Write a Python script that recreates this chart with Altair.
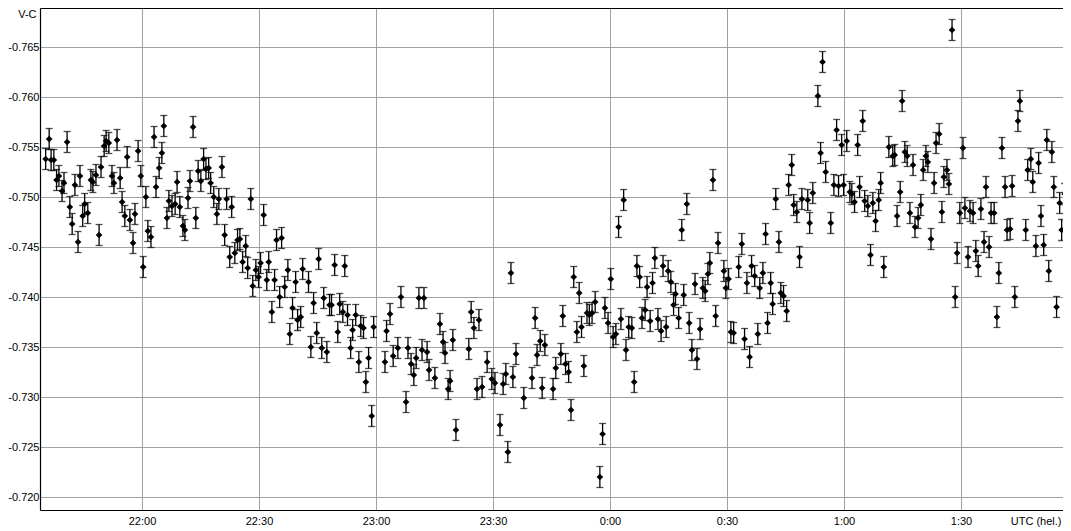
import altair as alt
import pandas as pd

# Time in minutes relative to 22:00 UTC (hel.), negative = before 22:00
minutes = [
    -24.7, -23.8, -23.3, -22.6, -21.9, -21.3, -20.5, -20.0, -19.2, -18.5,
    -17.9, -17.2, -16.4, -15.9, -15.2, -14.7, -13.9, -13.1, -12.6, -11.8,
    -11.0, -10.5, -9.7, -9.2, -8.5, -7.7, -7.2, -6.4, -5.6, -5.1,
    -4.4, -3.8, -3.1, -2.3, -1.8, -1.0, -0.3, 0.3, 1.0, 1.5,
    2.3, 3.1, 3.6, 4.4, 5.1, 5.6, 6.4, 6.9, 7.7, 8.5,
    9.0, 9.7, 10.5, 11.0, 11.8, 12.3, 13.1, 13.8, 14.4, 15.1,
    15.8, 16.4, 17.1, 17.6, 18.4, 19.2, 19.7, 20.5, 21.2, 21.7,
    22.5, 23.0, 23.8, 24.5, 25.1, 25.8, 26.6, 27.1, 27.9, 28.4,
    29.2, 29.9, 30.4, 31.2, 32.0, 32.5, 33.3, 34.0, 34.5, 35.3,
    35.8, 36.6, 37.4, 37.9, 38.6, 39.4, 39.9, 40.7, 41.2, 42.7,
    43.3, 44.0, 44.8, 45.3, 46.1, 46.6, 47.4, 48.1, 48.6, 49.4,
    50.2, 50.7, 51.5, 52.0, 52.7, 53.5, 54.0, 54.8, 55.6, 56.1,
    56.8, 57.4, 58.1, 58.9, 59.4, 62.3, 62.7, 63.6, 64.4, 65.6,
    66.4, 67.7, 68.2, 69.0, 69.7, 70.3, 71.0, 71.8, 72.3, 73.1,
    73.6, 75.1, 76.4, 77.2, 77.7, 78.5, 79.0, 79.7, 80.5, 83.8,
    84.4, 85.1, 85.9, 86.4, 87.2, 88.5, 89.7, 90.5, 91.8, 92.6,
    93.3, 93.8, 94.6, 95.1, 95.9, 97.9, 100.0, 100.8, 101.3, 102.1,
    102.6, 103.3, 105.4, 106.1, 107.4, 107.9, 108.6, 109.4, 110.0, 110.7,
    111.5, 112.1, 112.7, 113.3, 114.1, 114.7, 115.4, 116.2, 117.4, 118.1,
    118.7, 119.5, 120.2, 120.8, 121.5, 122.2, 122.8, 123.5, 124.1, 124.8,
    125.6, 126.2, 126.9, 127.6, 128.2, 129.0, 129.5, 130.3, 130.9, 131.5,
    132.3, 133.1, 133.6, 134.4, 134.9, 135.6, 136.3, 136.8, 137.6, 138.4,
    138.9, 139.7, 140.3, 141.0, 141.8, 142.3, 143.1, 143.8, 144.4, 145.1,
    145.6, 146.4, 147.1, 147.7, 149.2, 149.7, 150.4, 151.0, 151.7, 153.0,
    153.8, 154.5, 155.1, 155.8, 156.3, 157.1, 157.9, 158.4, 159.2, 159.9,
    160.4, 161.2, 161.7, 162.5, 163.3, 163.8, 164.5, 165.3, 165.8, 166.6,
    167.1, 167.9, 168.6, 169.2, 170.7, 171.2, 172.0, 173.3, 174.0, 174.5,
    175.3, 176.6, 177.4, 178.1, 178.6, 179.4, 179.9, 180.7, 181.5, 182.0,
    182.7, 183.5, 184.0, 184.8, 185.3, 186.1, 186.8, 187.4, 188.1, 188.9,
    189.4, 190.2, 191.5, 192.5, 193.0, 193.6, 194.4, 194.9, 195.6, 196.2,
    196.9, 197.7, 198.2, 199.0, 199.7, 200.3, 201.0, 201.5, 202.3, 203.1,
    203.6, 204.4, 205.1, 205.6, 206.4, 206.9, 207.7, 208.5, 209.0, 209.7,
    210.5, 211.0, 211.8, 212.3, 213.1, 213.8, 214.4, 215.1, 215.9, 216.4,
    217.2, 217.7, 218.5, 219.2, 219.7, 220.5, 221.3, 221.8, 222.6, 223.1,
    223.8, 224.6, 225.1, 226.6, 227.1, 227.9, 228.4, 229.2, 229.9, 230.5,
    231.2, 232.0, 232.5, 233.3, 233.8, 234.5, 235.3, 235.8, 236.6,
]

# V-C differential magnitude
vc = [
    -0.7538, -0.7558, -0.7537, -0.7537, -0.7517, -0.7521, -0.7506, -0.7514, -0.7555, -0.7490,
    -0.7473, -0.7512, -0.7455, -0.7521, -0.7481, -0.7493, -0.7484, -0.7517, -0.7515, -0.7522,
    -0.7462, -0.7530, -0.7551, -0.7556, -0.7554, -0.7521, -0.7514, -0.7557, -0.7519, -0.7495,
    -0.7481, -0.7540, -0.7477, -0.7454, -0.7483, -0.7546, -0.7521, -0.7430, -0.7500, -0.7466,
    -0.7460, -0.7560, -0.7510, -0.7529, -0.7544, -0.7571, -0.7479, -0.7496, -0.7491, -0.7493,
    -0.7515, -0.7490, -0.7471, -0.7467, -0.7499, -0.7516, -0.7570, -0.7479, -0.7526, -0.7516,
    -0.7538, -0.7528, -0.7529, -0.7514, -0.7500, -0.7483, -0.7498, -0.7530, -0.7462, -0.7498,
    -0.7440, -0.7490, -0.7444, -0.7457, -0.7458, -0.7435, -0.7451, -0.7429, -0.7498, -0.7411,
    -0.7427, -0.7420, -0.7434, -0.7482, -0.7417, -0.7435, -0.7385, -0.7417, -0.7457, -0.7400,
    -0.7459, -0.7410, -0.7427, -0.7363, -0.7389, -0.7415, -0.7377, -0.7380, -0.7428, -0.7415,
    -0.7350, -0.7394, -0.7364, -0.7438, -0.7349, -0.7399, -0.7345, -0.7392, -0.7392, -0.7432,
    -0.7365, -0.7393, -0.7385, -0.7431, -0.7382, -0.7349, -0.7367, -0.7382, -0.7335, -0.7371,
    -0.7369, -0.7315, -0.7339, -0.7281, -0.7370, -0.7335, -0.7366, -0.7383, -0.7341, -0.7349,
    -0.7400, -0.7295, -0.7349, -0.7333, -0.7322, -0.7339, -0.7399, -0.7347, -0.7399, -0.7345,
    -0.7327, -0.7319, -0.7373, -0.7355, -0.7344, -0.7308, -0.7316, -0.7357, -0.7267, -0.7348,
    -0.7385, -0.7369, -0.7308, -0.7377, -0.7310, -0.7335, -0.7318, -0.7314, -0.7272, -0.7313,
    -0.7323, -0.7245, -0.7424, -0.7320, -0.7343, -0.7299, -0.7319, -0.7379, -0.7342, -0.7356,
    -0.7309, -0.7352, -0.7308, -0.7329, -0.7343, -0.7381, -0.7333, -0.7325, -0.7287, -0.7420,
    -0.7365, -0.7404, -0.7370, -0.7331, -0.7384, -0.7382, -0.7384, -0.7395, -0.7220, -0.7263,
    -0.7389, -0.7374, -0.7418, -0.7360, -0.7363, -0.7470, -0.7378, -0.7497, -0.7347, -0.7370,
    -0.7369, -0.7315, -0.7431, -0.7420, -0.7379, -0.7387, -0.7410, -0.7376, -0.7414, -0.7439,
    -0.7378, -0.7366, -0.7431, -0.7370, -0.7426, -0.7415, -0.7392, -0.7403, -0.7379, -0.7467,
    -0.7402, -0.7493, -0.7374, -0.7347, -0.7413, -0.7338, -0.7368, -0.7409, -0.7406, -0.7423,
    -0.7434, -0.7517, -0.7381, -0.7454, -0.7426, -0.7409, -0.7418, -0.7365, -0.7364, -0.7430,
    -0.7453, -0.7358, -0.7414, -0.7340, -0.7431, -0.7421, -0.7363, -0.7409, -0.7424, -0.7463,
    -0.7374, -0.7414, -0.7393, -0.7498, -0.7455, -0.7404, -0.7401, -0.7386, -0.7512, -0.7532,
    -0.7492, -0.7485, -0.7440, -0.7498, -0.7497, -0.7474, -0.7504, -0.7601, -0.7544, -0.7635,
    -0.7525, -0.7474, -0.7512, -0.7567, -0.7511, -0.7552, -0.7512, -0.7556, -0.7505, -0.7503,
    -0.7495, -0.7552, -0.7510, -0.7576, -0.7496, -0.7491, -0.7442, -0.7494, -0.7476, -0.7497,
    -0.7514, -0.7430, -0.7550, -0.7541, -0.7542, -0.7481, -0.7505, -0.7596, -0.7545, -0.7541,
    -0.7484, -0.7532, -0.7470, -0.7479, -0.7492, -0.7527, -0.7541, -0.7535, -0.7458, -0.7514,
    -0.7554, -0.7563, -0.7485, -0.7520, -0.7527, -0.7513, -0.7667, -0.7400, -0.7444, -0.7484,
    -0.7549, -0.7489, -0.7440, -0.7486, -0.7484, -0.7446, -0.7431, -0.7488, -0.7455, -0.7510,
    -0.7450, -0.7484, -0.7484, -0.7380, -0.7424, -0.7549, -0.7510, -0.7467, -0.7468, -0.7511,
    -0.7400, -0.7576, -0.7596, -0.7467, -0.7527, -0.7538, -0.7515, -0.7451, -0.7534, -0.7481,
    -0.7452, -0.7557, -0.7426, -0.7545, -0.7510, -0.7390, -0.7494, -0.7467, -0.7503,
]

error = 0.00105  # half length of every error bar

x_ticks = [0, 30, 60, 90, 120, 150, 180, 210]
y_ticks = [-0.765, -0.760, -0.755, -0.750, -0.745, -0.740, -0.735, -0.730, -0.725, -0.720]
x_domain = [-26.15, 236.15]
y_domain = [-0.7689, -0.7187]

df = pd.DataFrame({"t": minutes, "v": vc})
df["lo"] = df["v"] - error
df["hi"] = df["v"] + error

FONT = "Liberation Sans"
PLOT_W = 1023
PLOT_H = 502

x_scale = alt.Scale(domain=x_domain, nice=False, zero=False)
y_scale = alt.Scale(domain=y_domain, reverse=True, nice=False, zero=False)

# bottom axis: labels, grid, title at the right end
x_bottom = alt.X(
    "t:Q",
    scale=x_scale,
    axis=alt.Axis(
        orient="bottom",
        values=x_ticks,
        title="UTC (hel.)",
        labelExpr="((floor(datum.value/60)+22)%24) + ':' + (datum.value%60 < 10 ? '0' : '') + (datum.value%60)",
        labelPadding=5,
        labelBaseline="top",
        titleAnchor="end",
        titleAlign="right",
        titleBaseline="top",
        titleX=PLOT_W - 2,
        titleY=5,
        grid=True,
        domain=True,
    ),
)

# top axis: only the frame line
x_top = alt.X(
    "t:Q",
    scale=x_scale,
    axis=alt.Axis(
        orient="top",
        values=x_ticks,
        labels=False,
        grid=False,
        domain=True,
        title="",
    ),
)

y_axis = alt.Axis(
    values=y_ticks,
    title="V-C",
    labelExpr="replace(format(datum.value, '.3f'), '\u2212', '-')",
    labelPadding=1,
    titleAngle=0,
    titleAlign="right",
    titleBaseline="middle",
    titleX=-4,
    titleY=6,
    grid=True,
    domain=True,
)

bars = alt.Chart(df).mark_errorbar(
    ticks={"size": 7}, thickness=1.3, color="black"
).encode(
    x=x_top,
    y=alt.Y("lo:Q", scale=y_scale, axis=y_axis),
    y2="hi:Q",
)

points = alt.Chart(df).mark_point(
    shape="diamond", filled=True, size=45, color="black", opacity=1
).encode(
    x=x_bottom,
    y=alt.Y("v:Q", scale=y_scale, axis=y_axis),
)

chart = (
    alt.layer(bars, points)
    .resolve_axis(x="independent")
    .properties(
        width=PLOT_W,
        height=PLOT_H,
        padding={"left": 32, "top": 0, "right": 0, "bottom": 21},
        autosize=alt.AutoSizeParams(type="none"),
        background="white",
    )
    .configure_view(strokeWidth=0)
    .configure_axis(
        labelFont=FONT,
        labelFontSize=11,
        labelColor="black",
        titleFont=FONT,
        titleFontSize=11,
        titleFontWeight="normal",
        titleColor="black",
        gridColor="#a0a0a0",
        gridWidth=1,
        gridOpacity=1,
        ticks=False,
        domainColor="black",
        domainWidth=1.2,
    )
)

chart.save("out.html", embed_options={"renderer": "svg", "actions": False})
